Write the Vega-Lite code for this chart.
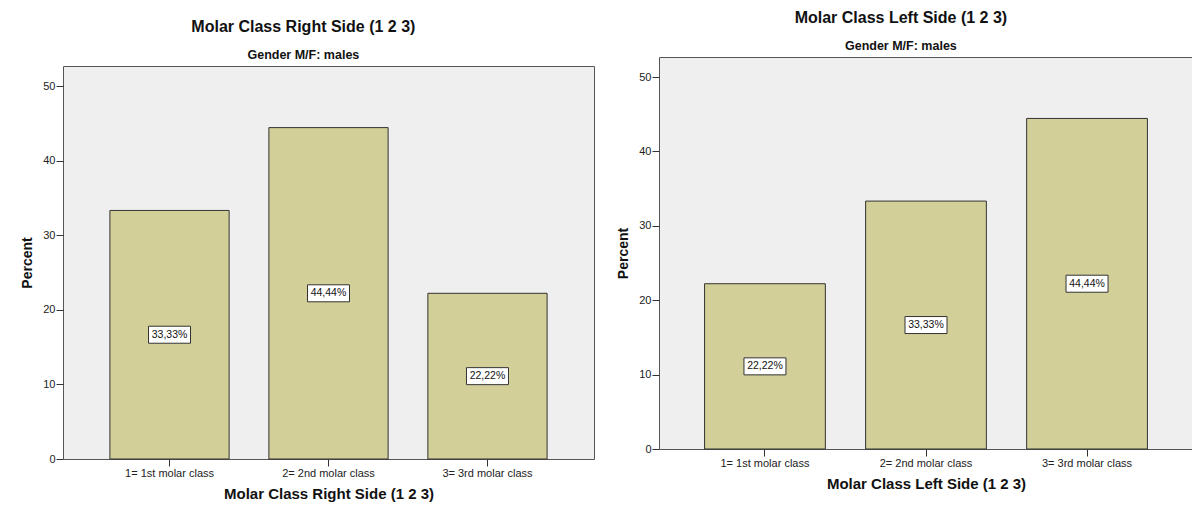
{
  "$schema": "https://vega.github.io/schema/vega-lite/v6.json",
  "background": "white",
  "padding": {"left": 20, "top": 8, "right": 0, "bottom": 0},
  "spacing": 21,
  "config": {
    "font": "Liberation Sans",
    "view": {"fill": "#EFEFEF", "stroke": "#555555", "strokeWidth": 1},
    "axis": {
      "grid": false,
      "domain": false,
      "tickColor": "#333333",
      "labelColor": "#222222",
      "labelFont": "Liberation Sans",
      "labelFontSize": 11,
      "titleFont": "Liberation Sans",
      "titleFontWeight": "bold",
      "titleColor": "#111111"
    },
    "title": {
      "font": "Liberation Sans",
      "fontSize": 16,
      "fontWeight": "bold",
      "color": "#111111",
      "subtitleFont": "Liberation Sans",
      "subtitleFontSize": 12.5,
      "subtitleFontWeight": "bold",
      "subtitleColor": "#111111",
      "anchor": "middle",
      "frame": "bounds",
      "dx": -4,
      "offset": 5,
      "subtitlePadding": 14
    }
  },
  "datasets": {
    "rightSide": [
      {"molar_class": "1= 1st molar class", "percent": 33.33, "label": "33,33%"},
      {"molar_class": "2= 2nd molar class", "percent": 44.44, "label": "44,44%"},
      {"molar_class": "3= 3rd molar class", "percent": 22.22, "label": "22,22%"}
    ],
    "leftSide": [
      {"molar_class": "1= 1st molar class", "percent": 22.22, "label": "22,22%"},
      {"molar_class": "2= 2nd molar class", "percent": 33.33, "label": "33,33%"},
      {"molar_class": "3= 3rd molar class", "percent": 44.44, "label": "44,44%"}
    ],
    "empty": []
  },
  "hconcat": [
    {
      "spacing": 0,
      "vconcat": [
        {
          "width": 1,
          "height": 10,
          "data": {"name": "empty"},
          "mark": "point",
          "view": {"fill": null, "stroke": null}
        },
        {
          "title": {"text": "Molar Class Right Side (1 2 3)", "subtitle": "Gender M/F: males"},
          "width": 531,
          "height": 393,
          "data": {"name": "rightSide"},
          "encoding": {
            "x": {
              "field": "molar_class",
              "type": "nominal",
              "sort": null,
              "scale": {"paddingInner": 0.25, "paddingOuter": 0.295},
              "axis": {"labelAngle": 0, "title": "Molar Class Right Side (1 2 3)", "tickSize": 7, "labelPadding": 1, "titleFontSize": 15, "titlePadding": 8}
            }
          },
          "layer": [
            {
              "mark": {"type": "bar", "fill": "#D3CF98", "stroke": "#333333", "strokeWidth": 1},
              "encoding": {
                "y": {
                  "field": "percent",
                  "type": "quantitative",
                  "scale": {"domain": [0, 52.7], "nice": false},
                  "axis": {"values": [0, 10, 20, 30, 40, 50], "title": "Percent", "titleFontSize": 14, "tickSize": 7, "labelPadding": 1, "titlePadding": 8}
                }
              }
            },
            {
              "mark": {"type": "point", "shape": "M-1,-0.405H1V0.405H-1Z", "size": 1764, "filled": true, "fill": "white", "stroke": "#333333", "strokeWidth": 1, "opacity": 1},
              "encoding": {
                "y": {"field": "percent", "type": "quantitative", "scale": {"domain": [0, 105.4], "nice": false}, "axis": null}
              }
            },
            {
              "mark": {"type": "text", "font": "Liberation Sans", "fontSize": 10.5, "color": "#111111"},
              "encoding": {
                "y": {"field": "percent", "type": "quantitative", "scale": {"domain": [0, 105.4], "nice": false}, "axis": null},
                "text": {"field": "label", "type": "nominal"}
              }
            }
          ],
          "resolve": {"scale": {"y": "independent"}}
        }
      ]
    },
    {
      "spacing": 0,
      "vconcat": [
        {
          "width": 1,
          "height": 1,
          "data": {"name": "empty"},
          "mark": "point",
          "view": {"fill": null, "stroke": null}
        },
        {
          "title": {"text": "Molar Class Left Side (1 2 3)", "subtitle": "Gender M/F: males"},
          "width": 534,
          "height": 392,
          "data": {"name": "leftSide"},
          "encoding": {
            "x": {
              "field": "molar_class",
              "type": "nominal",
              "sort": null,
              "scale": {"paddingInner": 0.25, "paddingOuter": 0.283},
              "axis": {"labelAngle": 0, "title": "Molar Class Left Side (1 2 3)", "tickSize": 7, "labelPadding": 1, "titleFontSize": 15, "titlePadding": 8}
            }
          },
          "layer": [
            {
              "mark": {"type": "bar", "fill": "#D3CF98", "stroke": "#333333", "strokeWidth": 1},
              "encoding": {
                "y": {
                  "field": "percent",
                  "type": "quantitative",
                  "scale": {"domain": [0, 52.7], "nice": false},
                  "axis": {"values": [0, 10, 20, 30, 40, 50], "title": "Percent", "titleFontSize": 14, "tickSize": 7, "labelPadding": 1, "titlePadding": 8}
                }
              }
            },
            {
              "mark": {"type": "point", "shape": "M-1,-0.405H1V0.405H-1Z", "size": 1764, "filled": true, "fill": "white", "stroke": "#333333", "strokeWidth": 1, "opacity": 1},
              "encoding": {
                "y": {"field": "percent", "type": "quantitative", "scale": {"domain": [0, 105.4], "nice": false}, "axis": null}
              }
            },
            {
              "mark": {"type": "text", "font": "Liberation Sans", "fontSize": 10.5, "color": "#111111"},
              "encoding": {
                "y": {"field": "percent", "type": "quantitative", "scale": {"domain": [0, 105.4], "nice": false}, "axis": null},
                "text": {"field": "label", "type": "nominal"}
              }
            }
          ],
          "resolve": {"scale": {"y": "independent"}}
        }
      ]
    }
  ]
}
